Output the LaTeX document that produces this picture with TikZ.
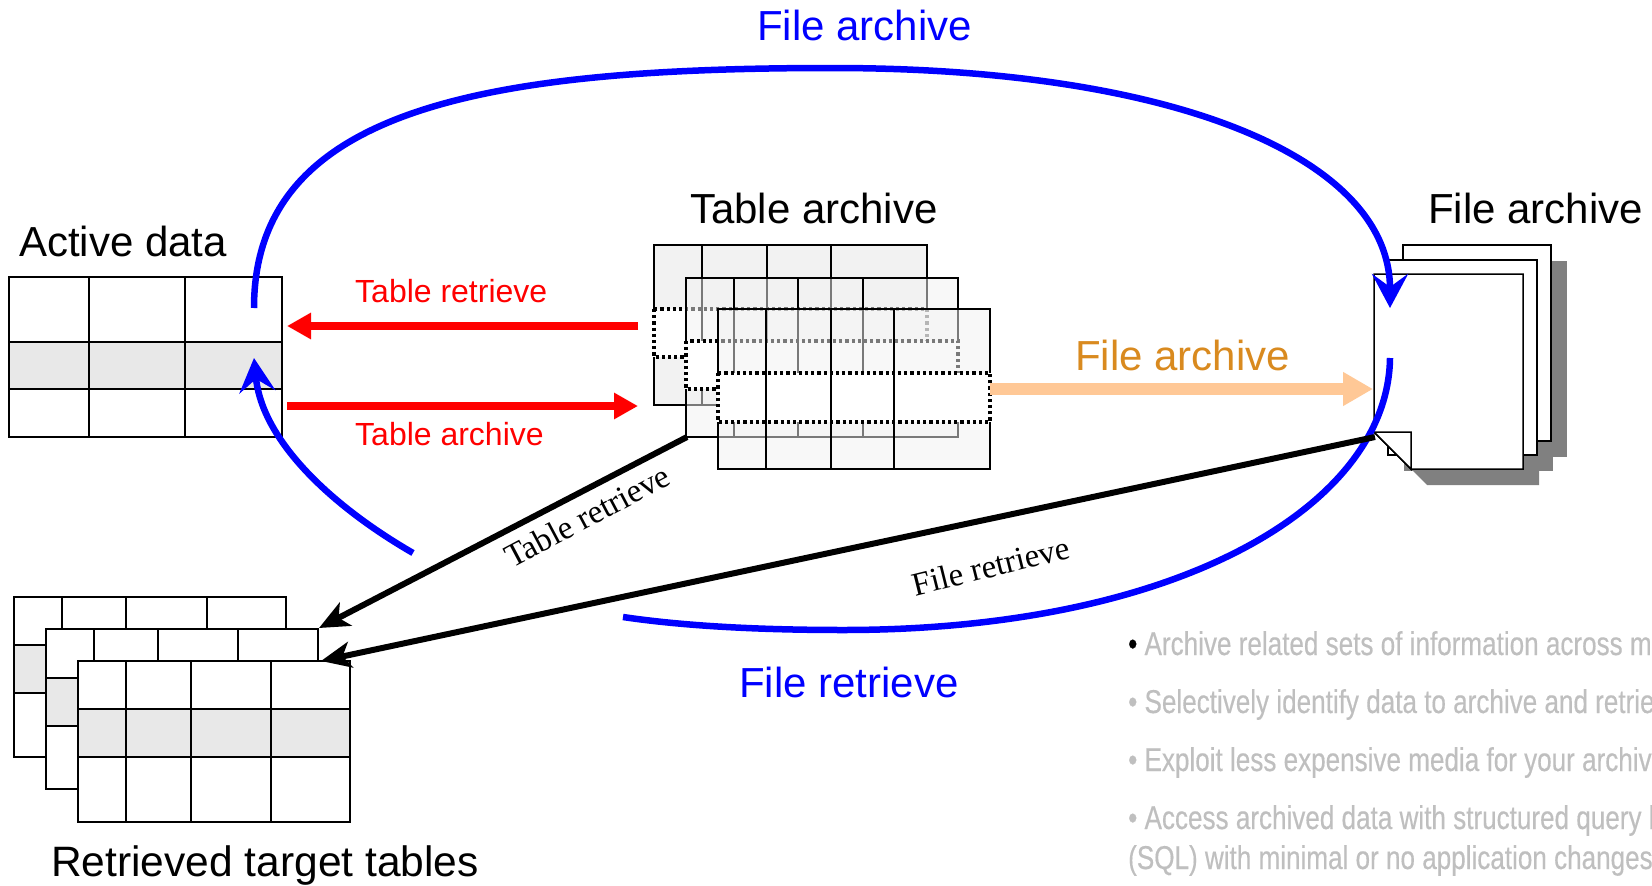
\documentclass[tikz,border=0pt]{standalone}
\usepackage{fontspec}
\setmainfont{Liberation Sans}
\newfontfamily\serifface{Liberation Serif}
\newfontfamily\narrowface[FakeStretch=0.79,FakeBold=0.4]{Liberation Sans}
\usetikzlibrary{arrows.meta}

\definecolor{rowgray}{HTML}{E8E8E8}
\definecolor{archfill}{HTML}{F2F2F2}
\definecolor{peach}{HTML}{FFC896}
\definecolor{amber}{HTML}{D98A1F}
\definecolor{notegray}{HTML}{BFBFBF}
\definecolor{shadowgray}{HTML}{808080}

\tikzset{
  tbl/.style={draw=black, line width=1.4pt},
  dotrow/.style={draw=black, line width=3.2pt, dash pattern=on 3.2pt off 3pt},
  page/.style={draw=black, fill=white, line width=1.5pt, line join=miter},
  txt/.style={inner sep=0pt, anchor=base west},
  headfont/.style={font=\fontsize{42}{48}\selectfont},
  redfont/.style={font=\fontsize{32}{37}\selectfont, text=red},
  seriffont/.style={font=\serifface\fontsize{33}{38}\selectfont},
  notefont/.style={font=\narrowface\fontsize{33}{38}\selectfont, text=notegray},
  bluearc/.style={draw=blue, line width=6.5pt, -{Stealth[length=34pt,width=36pt,inset=13pt]}},
  blueline/.style={draw=blue, line width=6.5pt},
  redarrow/.style={draw=red, line width=8pt, -{Triangle[length=24pt,width=25pt]}},
  peacharrow/.style={draw=peach, line width=12pt, -{Triangle[length=30pt,width=32pt]}},
  blackarrow/.style={draw=black, line width=6pt, -{Stealth[length=30pt,width=26pt,inset=8pt]}}
}

\begin{document}
\begin{tikzpicture}[x=1pt,y=-1pt]
\useasboundingbox (0,0) rectangle (1652,886);
\clip (0,0) rectangle (1652,886);

% ---------- active data table ----------
\fill[white] (9,277) rectangle (282,437);
\fill[rowgray] (9,342) rectangle (282,389);
\draw[tbl] (9,277) rectangle (282,437);
\draw[tbl] (9,342) -- (282,342) (9,389) -- (282,389)
           (89,277) -- (89,437) (185,277) -- (185,437);

% ---------- table archive: three stacked tables ----------
% back
\fill[archfill] (654,245) rectangle (927,405);
\draw[tbl] (654,245) rectangle (927,405);
\fill[white] (653,309) rectangle (928,357);
\draw[tbl] (702,245) -- (702,405) (767,245) -- (767,405) (831,245) -- (831,405);
\draw[dotrow] (654,309) rectangle (927,357);
% middle
\fill[archfill, fill opacity=0.5] (686,278) rectangle (958,437);
\draw[tbl] (686,278) rectangle (958,437);
\fill[white] (685,341) rectangle (959,389);
\draw[tbl] (734,278) -- (734,437) (798,278) -- (798,437) (863,278) -- (863,437);
\draw[dotrow] (686,341) rectangle (958,389);
% front
\fill[archfill, fill opacity=0.5] (718,309) rectangle (990,469);
\draw[tbl] (718,309) rectangle (990,469);
\fill[white] (717,373) rectangle (991,422);
\draw[tbl] (766,309) -- (766,469) (831,309) -- (831,469) (894,309) -- (894,469);
\draw[dotrow] (718,373) rectangle (990,422);

% ---------- retrieved target tables ----------
\fill[white] (14,597) rectangle (286,757);
\fill[rowgray] (14,645) rectangle (286,693);
\draw[tbl] (14,597) rectangle (286,757);
\draw[tbl] (14,645) -- (286,645) (14,693) -- (286,693)
           (62,597) -- (62,757) (126,597) -- (126,757) (207,597) -- (207,757);

\fill[white] (46,629) rectangle (318,789);
\fill[rowgray] (46,678) rectangle (318,726);
\draw[tbl] (46,629) rectangle (318,789);
\draw[tbl] (46,678) -- (318,678) (46,726) -- (318,726)
           (94,629) -- (94,789) (158,629) -- (158,789) (238,629) -- (238,789);

\fill[white] (78,661) rectangle (350,822);
\fill[rowgray] (78,709) rectangle (350,757);
\draw[tbl] (78,661) rectangle (350,822);
\draw[tbl] (78,709) -- (350,709) (78,757) -- (350,757)
           (126,661) -- (126,822) (191,661) -- (191,822) (271,661) -- (271,822);

% ---------- file archive: stacked pages with shadow ----------
\begin{scope}[shift={(16,16)}]
  \fill[shadowgray] (1403,245) rectangle (1551,441);
  \fill[shadowgray] (1388,260) rectangle (1537,455);
  \fill[shadowgray] (1374,274) -- (1523,274) -- (1523,469) -- (1411,469) -- (1374,432) -- cycle;
\end{scope}
\draw[page] (1403,245) rectangle (1551,441);
\draw[page] (1388,260) rectangle (1537,455);
\draw[page] (1374,274) -- (1523,274) -- (1523,469) -- (1411,469) -- (1374,432) -- cycle;
\draw[page] (1374,432) -- (1411,432) -- (1411,469) -- cycle;

% ---------- connector end points ----------
\coordinate (adTop) at (254,308);
\coordinate (adMid) at (254,358);
\coordinate (arcTop) at (832,68);
\coordinate (faTop) at (1390,308);
\coordinate (faBot) at (1390,358);
\coordinate (arcLow) at (843,630);
\coordinate (frEnd) at (623,617);
\coordinate (trStart) at (413,553);
\coordinate (taIn) at (638,326);
\coordinate (adIn) at (287,326);
\coordinate (adOut) at (287,406);
\coordinate (taOut) at (638,406);
\coordinate (taRight) at (990,389);
\coordinate (faLeft) at (1373,389);
\coordinate (taCorner) at (687,437);
\coordinate (rtMid) at (319,628);
\coordinate (faCorner) at (1375,437);
\coordinate (rtFront) at (321,661);

% ---------- connectors ----------
\draw[bluearc] (adTop) .. controls (254,110) and (480,68) .. (arcTop)
               .. controls (1180,68) and (1390,160) .. (faTop);
\draw[blueline] (faBot) .. controls (1388,505) and (1180,630) .. (arcLow)
                .. controls (740,630) and (670,624) .. (frEnd);
\draw[bluearc] (trStart) .. controls (330,505) and (262,440) .. (adMid);

\draw[redarrow] (taIn) -- (adIn);
\draw[redarrow] (adOut) -- (taOut);
\draw[peacharrow] (taRight) -- (faLeft);
\draw[blackarrow] (taCorner) -- (rtMid);
\draw[blackarrow] (faCorner) -- (rtFront);

% ---------- labels ----------
\node[txt, headfont] (lActive) at (19,256) {Active data};
\node[txt, headfont] (lTable) at (690,223) {Table archive};
\node[txt, headfont] (lFile) at (1428,223) {File archive};
\node[txt, headfont] (lTarget) at (51,876) {\fontsize{42.5}{48}\selectfont Retrieved target tables};
\node[txt, headfont, text=blue] (lArcTop) at (757,40) {File archive};
\node[txt, headfont, text=blue] (lArcLow) at (739,697) {File retrieve};
\node[txt, headfont, text=amber] (lPeach) at (1075,370) {File archive};
\node[txt, redfont] (lRedIn) at (355,302) {Table retrieve};
\node[txt, redfont] (lRedOut) at (355,445) {Table archive};
\node[seriffont, inner sep=0pt, rotate=28] (lTblRet) at (587,516) {Table retrieve};
\node[seriffont, inner sep=0pt, rotate=14] (lFileRet) at (991,566) {File retrieve};

% ---------- notes ----------
\node[txt, notefont] (n1) at (1128,655) {\textcolor{black}{•} Archive related sets of information across multiple tables};
\node[txt, notefont] (n2) at (1128,713) {• Selectively identify data to archive and retrieve};
\node[txt, notefont] (n3) at (1128,771) {• Exploit less expensive media for your archives};
\node[txt, notefont] (n4) at (1128,829) {• Access archived data with structured query language};
\node[txt, notefont] (n5) at (1128,869) {(SQL) with minimal or no application changes};
\end{tikzpicture}
\end{document}
